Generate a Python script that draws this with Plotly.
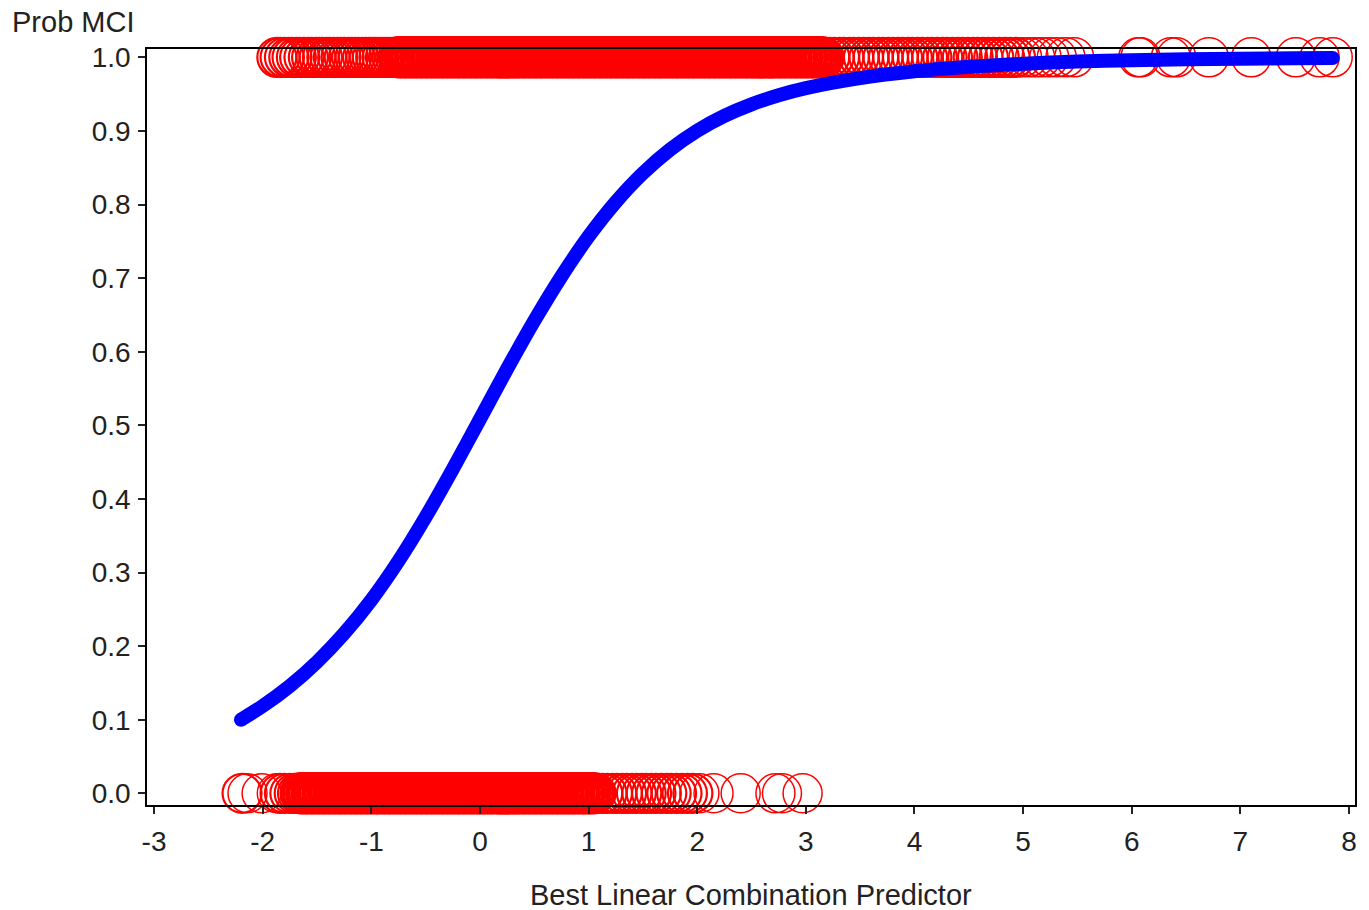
import plotly.graph_objects as go

# ---------------- data ----------------
# predictor values of subjects with outcome 1 (MCI)
mci_x = [
    -1.87, -1.84, -1.80, -1.76, -1.73, -1.69, -1.66, -1.62, -1.58, -1.55,
    -1.51, -1.48, -1.45, -1.41, -1.38, -1.35, -1.31, -1.28, -1.25, -1.21,
    -1.18, -1.15, -1.12, -1.08, -1.05, -1.02, -0.99, -0.96, -0.93, -0.90,
    -0.87, -0.84, -0.81, -0.78,
    -0.75, -0.73, -0.70, -0.68, -0.65, -0.63, -0.60, -0.58, -0.55, -0.53,
    -0.50, -0.48, -0.45, -0.43, -0.40, -0.38, -0.35, -0.33, -0.30, -0.28,
    -0.25, -0.23, -0.20, -0.18, -0.15, -0.13, -0.10, -0.08, -0.05, -0.03,
    0.00, 0.02, 0.05, 0.07, 0.10, 0.12, 0.15, 0.17, 0.20, 0.22,
    0.25, 0.27, 0.30, 0.32, 0.35, 0.37, 0.40, 0.42, 0.45, 0.47,
    0.50, 0.52, 0.55, 0.57, 0.60, 0.62, 0.65, 0.67, 0.70, 0.72,
    0.75, 0.77, 0.80, 0.82, 0.85, 0.87, 0.90, 0.92, 0.95, 0.97,
    1.00, 1.02, 1.05, 1.07, 1.10, 1.12, 1.15, 1.17, 1.20, 1.22,
    1.25, 1.27, 1.30, 1.32, 1.35, 1.37, 1.40, 1.42, 1.45, 1.47,
    1.50, 1.52, 1.55, 1.57, 1.60, 1.62, 1.65, 1.67, 1.70, 1.72,
    1.75, 1.77, 1.80, 1.82, 1.85, 1.87, 1.90, 1.92, 1.95, 1.97,
    2.00, 2.02, 2.05, 2.07, 2.10, 2.12, 2.15, 2.17, 2.20, 2.22,
    2.25, 2.27, 2.30, 2.32, 2.35, 2.37, 2.40, 2.42, 2.45, 2.47,
    2.50, 2.52, 2.55, 2.57, 2.60, 2.62, 2.65, 2.67, 2.70, 2.72,
    2.75, 2.77, 2.80, 2.82, 2.85, 2.87, 2.90, 2.92, 2.95, 2.97,
    3.00, 3.02, 3.05, 3.07, 3.10, 3.12, 3.15, 3.17,
    3.22, 3.26, 3.31, 3.35, 3.40, 3.44, 3.49, 3.53, 3.58, 3.62,
    3.67, 3.71, 3.76, 3.80, 3.85, 3.89, 3.94, 3.98, 4.03, 4.07,
    4.12, 4.16, 4.21, 4.26, 4.30, 4.35, 4.40, 4.44, 4.49, 4.54,
    4.58, 4.63, 4.68, 4.73, 4.78, 4.83, 4.88, 4.93, 4.99, 5.05,
    5.11, 5.17, 5.24, 5.31, 5.39, 5.47,
    6.06, 6.08, 6.36, 6.41, 6.71, 7.10, 7.51, 7.73, 7.85,
]

# predictor values of subjects with outcome 0
normal_x = [
    -2.19, -2.14, -2.01, -1.87, -1.84, -1.80, -1.75, -1.71, -1.68,
    -1.65, -1.63, -1.60, -1.58, -1.55, -1.53, -1.50, -1.48, -1.45, -1.43,
    -1.40, -1.38, -1.35, -1.33, -1.30, -1.28, -1.25, -1.23, -1.20, -1.18,
    -1.15, -1.13, -1.10, -1.08, -1.05, -1.03, -1.00, -0.98, -0.95, -0.93,
    -0.90, -0.88, -0.85, -0.83, -0.80, -0.78, -0.75, -0.73, -0.70, -0.68,
    -0.65, -0.63, -0.60, -0.58, -0.55, -0.53, -0.50, -0.48, -0.45, -0.43,
    -0.40, -0.38, -0.35, -0.33, -0.30, -0.28, -0.25, -0.23, -0.20, -0.18,
    -0.15, -0.13, -0.10, -0.08, -0.05, -0.03, 0.00, 0.02, 0.05, 0.07,
    0.10, 0.12, 0.15, 0.17, 0.20, 0.22, 0.25, 0.27, 0.30, 0.32,
    0.35, 0.37, 0.40, 0.42, 0.45, 0.47, 0.50, 0.52, 0.55, 0.57,
    0.60, 0.62, 0.65, 0.67, 0.70, 0.72, 0.75, 0.77, 0.80, 0.82,
    0.85, 0.87, 0.90, 0.92, 0.95, 0.97, 1.00, 1.02, 1.05, 1.07,
    1.13, 1.17, 1.22, 1.26, 1.31, 1.35, 1.40, 1.44, 1.49, 1.53,
    1.58, 1.62, 1.67, 1.72, 1.76, 1.81, 1.86, 1.91, 1.96, 2.02,
    2.15, 2.40, 2.72, 2.78, 2.97,
]

# fitted probability curve
curve_x = [-2.20, -2.00, -1.75, -1.50, -1.25, -1.00, -0.75, -0.50, -0.25, 0.00,
           0.25, 0.50, 0.75, 1.00, 1.25, 1.50, 1.75, 2.00, 2.25, 2.50,
           2.75, 3.00, 3.50, 4.00, 4.50, 5.00, 5.50, 6.00, 6.50, 7.00,
           7.50, 7.85]
curve_p = [0.100, 0.1185, 0.1458, 0.1785, 0.2172, 0.2627, 0.3156, 0.3754, 0.4405, 0.5085,
           0.5766, 0.6420, 0.7024, 0.7566, 0.8033, 0.8425, 0.8746, 0.9003, 0.9204, 0.9361,
           0.9485, 0.9582, 0.9718, 0.9810, 0.9871, 0.9913, 0.9942, 0.9961, 0.9974, 0.9982,
           0.9988, 0.9991]

x_ticks = [-3, -2, -1, 0, 1, 2, 3, 4, 5, 6, 7, 8]
y_ticks = [0.0, 0.1, 0.2, 0.3, 0.4, 0.5, 0.6, 0.7, 0.8, 0.9, 1.0]

y_title = "Prob MCI"
x_title = "Best Linear Combination Predictor"

# ---------------- figure ----------------
RED = "#ff0000"
BLUE = "#0000ff"
TXT = "#222222"
FONT = "Liberation Sans, Arial, sans-serif"


def ring_widths(xs):
    """Thin rings where points are sparse, heavier where they pile up so the
    overlapping rings merge into a (nearly) solid band as in the reference."""
    out = []
    n = len(xs)
    for i in range(n):
        gaps = []
        if i > 0:
            gaps.append(xs[i] - xs[i - 1])
        if i < n - 1:
            gaps.append(xs[i + 1] - xs[i])
        g = sum(gaps) / len(gaps) if gaps else 1.0
        if g < 0.028:
            out.append(3.5)
        elif g < 0.06:
            out.append(2.2)
        else:
            out.append(1.5)
    return out


fig = go.Figure()

for xs, yv in ((mci_x, 1.0), (normal_x, 0.0)):
    fig.add_trace(go.Scatter(
        x=xs, y=[yv] * len(xs), mode="markers", cliponaxis=False,
        marker=dict(symbol="circle", size=39, color="rgba(0,0,0,0)",
                    line=dict(color=RED, width=ring_widths(xs))),
        hoverinfo="x", showlegend=False,
    ))

fig.add_trace(go.Scatter(
    x=curve_x, y=curve_p, mode="lines", cliponaxis=False,
    line=dict(color=BLUE, width=14, shape="spline", smoothing=0.8),
    hoverinfo="skip", showlegend=False,
))
# rounded ends of the thick curve
fig.add_trace(go.Scatter(
    x=[curve_x[0], curve_x[-1]], y=[curve_p[0], curve_p[-1]], mode="markers",
    cliponaxis=False,
    marker=dict(size=14, color=BLUE, line=dict(width=0)),
    hoverinfo="skip", showlegend=False,
))

axis_common = dict(
    showgrid=False, zeroline=False,
    showline=True, linecolor="#000000", linewidth=1.5, mirror=True,
    ticks="outside", ticklen=7, tickwidth=1.5, tickcolor="#222222",
    tickfont=dict(family=FONT, size=28, color=TXT),
    layer="above traces",
)

fig.update_layout(
    width=1369, height=910,
    margin=dict(l=147, r=14, t=49, b=105),
    paper_bgcolor="white", plot_bgcolor="white",
    xaxis=dict(range=[-3.065, 8.055], tickvals=x_ticks,
               ticktext=[("-" + str(-v)) if v < 0 else str(v) for v in x_ticks],
               ticklabelstandoff=4,
               **axis_common),
    yaxis=dict(range=[-0.0159, 1.0113], tickvals=y_ticks,
               ticktext=["%.1f" % v for v in y_ticks],
               ticklabelstandoff=2,
               **axis_common),
    annotations=[
        dict(text=y_title, xref="paper", yref="paper", x=-137 / 1208, y=1.0 + 27 / 756,
             xanchor="left", yanchor="middle", showarrow=False,
             font=dict(family=FONT, size=29, color=TXT)),
        dict(text=x_title, xref="paper", yref="paper", x=0.5, y=-90 / 756,
             xanchor="center", yanchor="middle", showarrow=False,
             font=dict(family=FONT, size=29, color=TXT)),
    ],
)

fig.write_html(
    "out.html",
    config={"displayModeBar": False},
    post_script="document.body.style.margin='0';document.body.style.overflow='hidden';",
)
